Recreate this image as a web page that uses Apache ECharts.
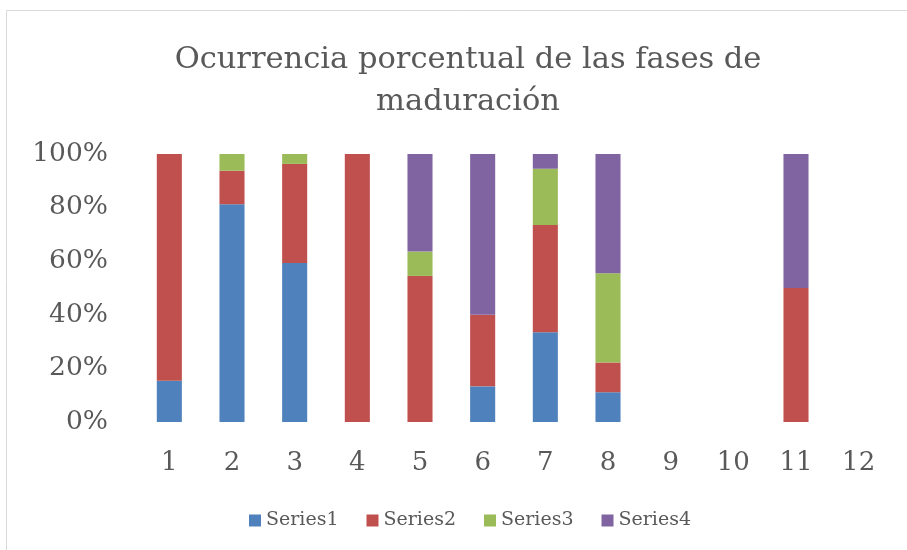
<!DOCTYPE html>
<html><head><meta charset="utf-8">
<script src="https://cdn.jsdelivr.net/npm/echarts@6/dist/echarts.min.js"></script>
<style>html,body{margin:0;padding:0;background:#fff}#c{width:907px;height:550px}</style>
</head><body><div id="c"></div>
<script>
const categories = ['1','2','3','4','5','6','7','8','9','10','11','12'];
const series1 = [15.4, 81.25, 59.3, 0, 0, 13.3, 33.5, 11.1, 0, 0, 0, 0];
const series2 = [84.6, 12.5, 37.0, 100, 54.5, 26.7, 40.0, 11.1, 0, 0, 50, 0];
const series3 = [0, 6.25, 3.7, 0, 9.1, 0, 21.0, 33.3, 0, 0, 0, 0];
const series4 = [0, 0, 0, 0, 36.4, 60.0, 5.5, 44.5, 0, 0, 50, 0];
const seriesNames = ['Series1','Series2','Series3','Series4'];
const colors = ['#4f81bd','#c0504d','#9bbb59','#8064a2'];

const font = "'DejaVu Serif', serif";
const chart = echarts.init(document.getElementById('c'));
const datas = [series1, series2, series3, series4];
chart.setOption({
  animation: false,
  color: colors,
  title: {
    text: 'Ocurrencia porcentual de las fases de\nmaduración',
    left: 463, top: 34,
    textAlign: 'center',
    textStyle: {fontFamily: font, fontWeight: 'normal', fontSize: 30.5, color: '#595959', lineHeight: 42}
  },
  legend: {
    bottom: 15, left: 244, itemWidth: 12, itemHeight: 12, itemGap: 28,
    icon: 'rect',
    textStyle: {fontFamily: font, fontSize: 19, color: '#595959'},
    data: seriesNames
  },
  grid: {left: 138, right: 17, top: 154, bottom: 128, containLabel: false},
  xAxis: {
    type: 'category', data: categories,
    axisLine: {show: false}, axisTick: {show: false},
    axisLabel: {fontFamily: font, fontSize: 26, color: '#595959', margin: 28}
  },
  yAxis: {
    type: 'value', min: 0, max: 100, interval: 20,
    splitLine: {show: false}, axisLine: {show: false}, axisTick: {show: false},
    axisLabel: {fontFamily: font, fontSize: 26.5, color: '#595959', margin: 30, formatter: '{value}%'}
  },
  series: seriesNames.map((n, i) => ({
    name: n, type: 'bar', stack: 'total', barWidth: '40%',
    data: datas[i],
    itemStyle: {color: colors[i]}
  })),
  graphic: [{type: 'rect', shape: {x: 6.5, y: 10.5, width: 905, height: 540}, style: {fill: 'none', stroke: '#d9d9d9', lineWidth: 1}}]
});
</script></body></html>
